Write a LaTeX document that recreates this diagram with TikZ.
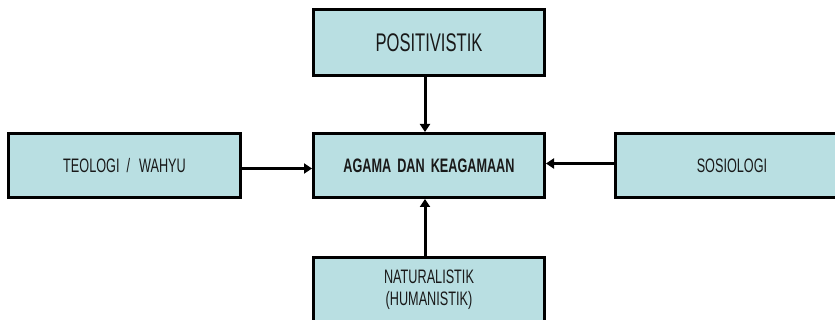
\documentclass[tikz,border=0pt]{standalone}
\usepackage{fontspec}
\setmainfont[FakeStretch=0.65]{Liberation Sans}
\usetikzlibrary{arrows.meta}
\definecolor{boxfill}{RGB}{185,223,226}
\begin{document}
\begin{tikzpicture}[x=1pt,y=-1pt,
  concept/.style={rectangle,draw=black,line width=3pt,fill=boxfill,
    inner sep=0pt,align=center,text=black!90,
    font=\fontsize{19.5}{22}\selectfont},
  link/.style={line width=3pt,-{Triangle[length=8pt,width=10pt]}}]
  \clip (0,0) rectangle (835,320);
  \fill[white] (0,0) rectangle (835,320);

  \node[concept,minimum width=231pt,minimum height=66pt,
        font=\fontsize{25.5}{28}\selectfont] (pos) at (429,42.5) {POSITIVISTIK};
  \node[concept,minimum width=231pt,minimum height=64pt,
        font=\fontsize{19.5}{22}\selectfont\bfseries] (agama) at (429,165.5)
        {AGAMA\hspace{6pt}DAN\hspace{6pt}KEAGAMAAN};
  \node[concept,minimum width=232pt,minimum height=64pt] (teo) at (124.5,165.5)
        {TEOLOGI\hspace{7pt}/\hspace{9pt}WAHYU};
  \node[concept,minimum width=233pt,minimum height=64pt] (sos) at (732,165.5)
        {SOSIOLOGI};
  \node[concept,minimum width=231pt,minimum height=64pt] (nat) at (429,289.5)
        {NATURALISTIK\\(HUMANISTIK)};

  \draw[link] ([xshift=-4pt]pos.south) -- ([xshift=-4pt]agama.north);
  \draw[link] ([xshift=-4pt]nat.north) -- ([xshift=-4pt]agama.south);
  \draw[link] ([yshift=-3pt]teo.east) -- ([yshift=-3pt]agama.west);
  \draw[link] ([yshift=2pt]sos.west) -- ([yshift=2pt]agama.east);
\end{tikzpicture}
\end{document}
